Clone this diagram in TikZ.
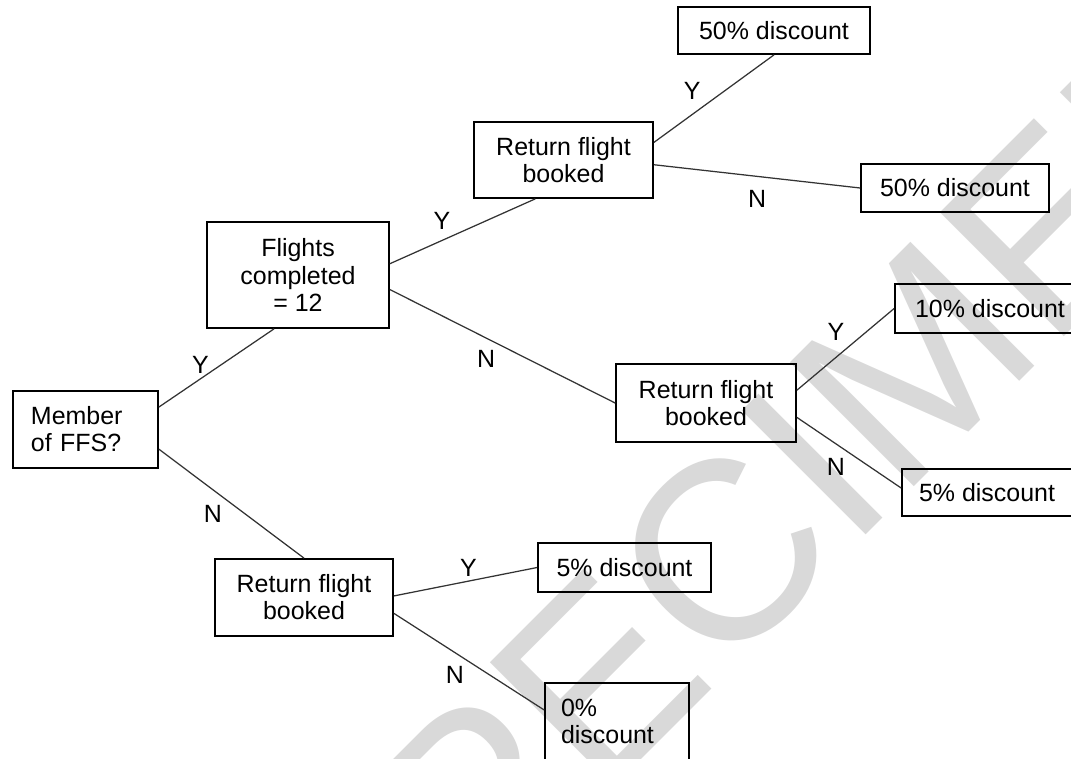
\documentclass[tikz,border=0pt]{standalone}
\usepackage{fontspec}
\setmainfont{Liberation Sans}
\begin{document}
\begin{tikzpicture}[x=0.2mm, y=-0.2mm,
	every node/.style={font=\fontsize{14.2}{15.4}\selectfont},
	tbox/.style={draw, line width=0.35mm, align=center, inner sep=0pt},
	link/.style={draw=black!80, line width=0.25mm},
	lbl/.style={inner sep=0.9mm}]
	\useasboundingbox (0,0) rectangle (1071,759);
	\clip (0,0) rectangle (1071,759);
	% watermark
	\node[rotate=45, text=black!15, font=\fontsize{145}{145}\selectfont] (wm) at (767.5,509.5) {SPECIMEN};
	% boxes
	\node[tbox, align=left, text width=21.8mm, inner xsep=3.6mm, minimum height=15.4mm] (mem) at (85.5,429.5) {Member\\of FFS?};
	\node[tbox, minimum width=36.4mm, minimum height=21.2mm] (flt) at (298,275) {Flights\\completed\\= 12};
	\node[tbox, minimum width=35.8mm, minimum height=15.2mm] (rt1) at (563.5,160) {Return flight\\booked};
	\node[tbox, minimum width=36mm, minimum height=15.6mm] (rt2) at (706,403) {Return flight\\booked};
	\node[tbox, minimum width=35.6mm, minimum height=15.4mm] (rt3) at (304,597.5) {Return flight\\booked};
	\node[tbox, minimum width=38.4mm, minimum height=9.4mm] (d50a) at (774,30.5) {50\% discount};
	\node[tbox, minimum width=37.6mm, minimum height=9.6mm] (d50b) at (955,188) {50\% discount};
	\node[tbox, minimum width=38mm, minimum height=9.8mm] (d10) at (990,308.5) {10\% discount};
	\node[tbox, minimum width=34mm, minimum height=9.4mm] (d5a) at (987,492.5) {5\% discount};
	\node[tbox, minimum width=34.6mm, minimum height=9.8mm] (d5b) at (624.5,567.5) {5\% discount};
	\node[tbox, align=left, text width=22.4mm, inner xsep=3.2mm, minimum height=15.4mm] (d0) at (617,721.5) {0\%\\discount};
	% branches
	\draw[link] (mem.17) -- (flt.246) node[lbl, pos=0.36, above] {Y};
	\draw[link] (mem.-15) -- (rt3.north) node[lbl, pos=0.47, below left] {N};
	\draw[link] (flt.7) -- (rt1.234) node[lbl, pos=0.45, above left] {Y};
	\draw[link] (flt.-9) -- (rt2.west) node[lbl, pos=0.49, below left] {N};
	\draw[link] (rt1.11) -- (d50a.south) node[lbl, pos=0.43, above left] {Y};
	\draw[link] (rt1.-3) -- (d50b.west) node[lbl, pos=0.5, below=1.8mm] {N};
	\draw[link] (rt2.8) -- (d10.west) node[lbl, pos=0.54, above left] {Y};
	\draw[link] (rt2.-9) -- (d5a.177) node[lbl, pos=0.51, below left] {N};
	\draw[link] (rt3.1) -- (d5b.west) node[lbl, pos=0.52, above] {Y};
	\draw[link] (rt3.-10) -- (d0.171) node[lbl, pos=0.5, below left] {N};
\end{tikzpicture}
\end{document}
